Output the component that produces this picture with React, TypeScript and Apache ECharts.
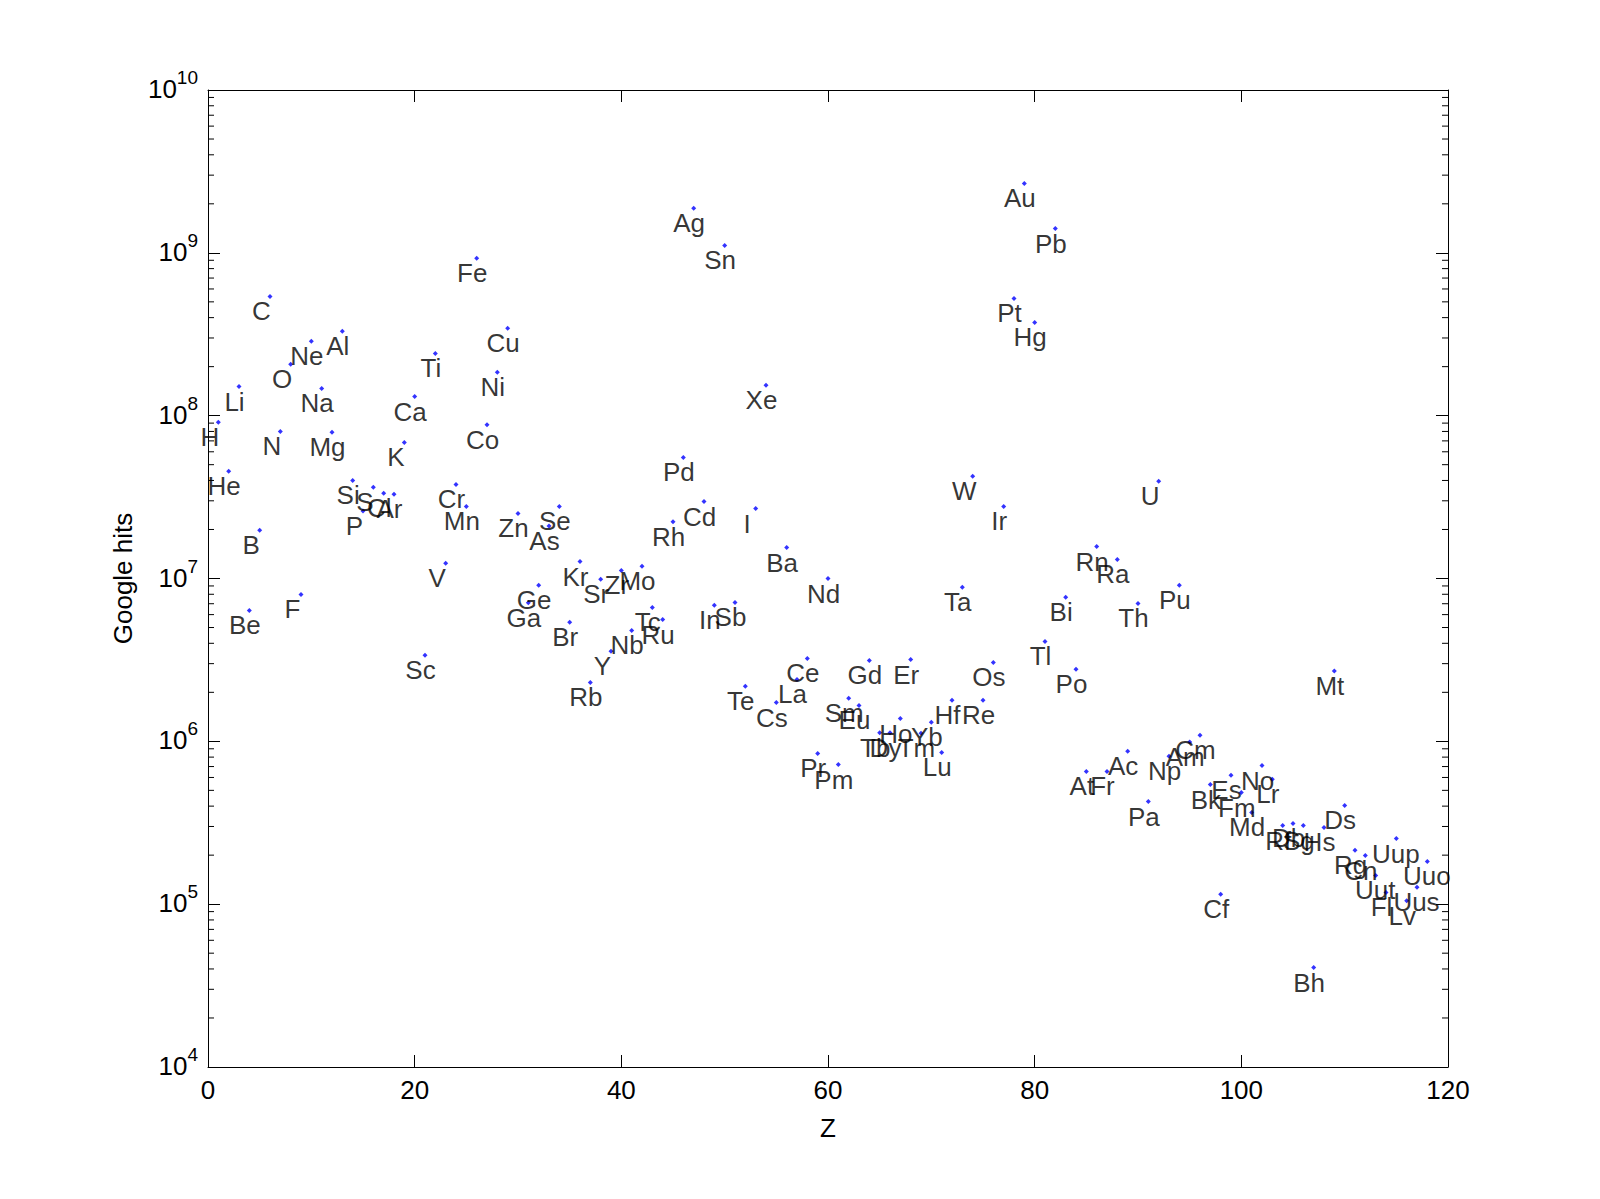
import React, { useEffect, useRef } from "react";
import * as echarts from "echarts";

const FONT = '"Liberation Sans", Arial, Helvetica, sans-serif';

// Element symbols, in order of atomic number Z = 1..118
const symbols = [
  "H", "He", "Li", "Be", "B", "C", "N", "O", "F", "Ne",
  "Na", "Mg", "Al", "Si", "P", "S", "Cl", "Ar", "K", "Ca",
  "Sc", "Ti", "V", "Cr", "Mn", "Fe", "Co", "Ni", "Cu", "Zn",
  "Ga", "Ge", "As", "Se", "Br", "Kr", "Rb", "Sr", "Y", "Zr",
  "Nb", "Mo", "Tc", "Ru", "Rh", "Pd", "Ag", "Cd", "In", "Sn",
  "Sb", "Te", "I", "Xe", "Cs", "Ba", "La", "Ce", "Pr", "Nd",
  "Pm", "Sm", "Eu", "Gd", "Tb", "Dy", "Ho", "Er", "Tm", "Yb",
  "Lu", "Hf", "Ta", "W", "Re", "Os", "Ir", "Pt", "Au", "Hg",
  "Tl", "Pb", "Bi", "Po", "At", "Rn", "Fr", "Ra", "Ac", "Th",
  "Pa", "U", "Np", "Pu", "Am", "Cm", "Bk", "Cf", "Es", "Fm",
  "Md", "No", "Lr", "Rf", "Db", "Sg", "Bh", "Hs", "Mt", "Ds",
  "Rg", "Cn", "Uut", "Fl", "Uup", "Lv", "Uus", "Uuo",
];

// Google hits per element
const hits = [
  9.1e7, 4.55e7, 1.51e8, 6.37e6, 1.98e7, 5.4e8, 8.0e7, 2.07e8, 7.98e6, 2.86e8,
  1.47e8, 7.9e7, 3.3e8, 4.0e7, 2.6e7, 3.63e7, 3.34e7, 3.29e7, 6.85e7, 1.31e8,
  3.38e6, 2.41e8, 1.24e7, 3.78e7, 2.77e7, 9.25e8, 8.8e7, 1.85e8, 3.44e8, 2.51e7,
  7.1e6, 9.08e6, 2.1e7, 2.77e7, 5.38e6, 1.27e7, 2.3e6, 9.9e6, 3.57e6, 1.12e7,
  4.8e6, 1.19e7, 6.64e6, 5.6e6, 2.23e7, 5.54e7, 1.88e9, 2.97e7, 6.84e6, 1.11e9,
  7.13e6, 2.18e6, 2.69e7, 1.54e8, 1.73e6, 1.55e7, 2.4e6, 3.23e6, 8.43e5, 1.0e7,
  7.2e5, 1.84e6, 1.66e6, 3.14e6, 1.13e6, 1.13e6, 1.38e6, 3.18e6, 1.12e6, 1.31e6,
  8.55e5, 1.79e6, 8.83e6, 4.24e7, 1.79e6, 3.05e6, 2.77e7, 5.25e8, 2.67e9, 3.74e8,
  4.11e6, 1.41e9, 7.66e6, 2.77e6, 6.53e5, 1.57e7, 6.53e5, 1.31e7, 8.68e5, 7.03e6,
  4.27e5, 3.95e7, 8.1e5, 9.08e6, 9.9e5, 1.09e6, 5.43e5, 1.15e5, 6.18e5, 4.85e5,
  3.66e5, 7.1e5, 5.84e5, 3.04e5, 3.13e5, 3.04e5, 4.08e4, 2.96e5, 2.7e6, 4.04e5,
  2.14e5, 1.99e5, 1.5e5, 1.18e5, 2.53e5, 1.05e5, 1.27e5, 1.83e5,
];

const xMin = 0;
const xMax = 120;
const xInterval = 20;
const yMin = 1e4;
const yMax = 1e10;

// log-axis minor tick positions (2..9 x 10^n)
const minorTicks: number[] = [];
for (let e = 4; e < 10; e++) {
  for (let k = 2; k <= 9; k++) minorTicks.push(k * Math.pow(10, e));
}

const DOT = 5;

export default function App() {
  const ref = useRef<HTMLDivElement>(null);

  useEffect(() => {
    document.body.style.margin = "0";
    if (!ref.current) return;
    const chart = echarts.init(ref.current, undefined, { renderer: "svg" });

    const scatterData = symbols.map((s, i) => ({
      name: s,
      value: [i + 1, hits[i]],
      label: {
        show: true,
        position: [DOT / 2 - 12.5 + 4 * s.length, DOT / 2 + 15],
        align: "center",
        verticalAlign: "middle",
        formatter: s,
        fontSize: 26,
        color: "#000",
        fontFamily: FONT,
      },
    }));

    const axisLineStyle = { color: "#000", width: 1 };

    const option: any = {
      animation: false,
      backgroundColor: "#fff",
      grid: { left: 208, top: 90, right: 152, bottom: 132, containLabel: false },
      xAxis: [
        {
          type: "value",
          min: xMin,
          max: xMax,
          interval: xInterval,
          position: "bottom",
          name: "Z",
          nameLocation: "middle",
          nameGap: 48,
          nameTextStyle: { fontSize: 26, color: "#000", fontFamily: FONT },
          axisLine: { show: true, onZero: false, lineStyle: axisLineStyle },
          axisTick: { show: true, inside: true, length: 12, lineStyle: { color: "#000" } },
          axisLabel: { fontSize: 26, color: "#000", margin: 10, fontFamily: FONT },
          splitLine: { show: false },
        },
        {
          type: "value",
          min: xMin,
          max: xMax,
          interval: xInterval,
          position: "top",
          axisLine: { show: true, onZero: false, lineStyle: axisLineStyle },
          axisTick: { show: true, inside: true, length: 12, lineStyle: { color: "#000" } },
          axisLabel: { show: false },
          splitLine: { show: false },
        },
      ],
      yAxis: [
        {
          type: "log",
          logBase: 10,
          min: yMin,
          max: yMax,
          position: "left",
          name: "Google hits",
          nameLocation: "middle",
          nameGap: 72,
          nameRotate: 90,
          nameTextStyle: { fontSize: 26, color: "#000", fontFamily: FONT },
          axisLine: { show: true, onZero: false, lineStyle: axisLineStyle },
          axisTick: { show: true, inside: true, length: 12, lineStyle: { color: "#000" } },
          axisLabel: {
            margin: 10,
            color: "#000",
            fontFamily: FONT,
            padding: [20, 0, 0, 0],
            formatter: (v: number) => `{b|10}{s|${Math.round(Math.log10(v))}}`,
            rich: {
              b: { fontSize: 26, lineHeight: 24, fontFamily: FONT, color: "#000", verticalAlign: "bottom", padding: [0, 0, 10, 0] },
              s: { fontSize: 19, lineHeight: 18, fontFamily: FONT, color: "#000", verticalAlign: "bottom", padding: [0, 0, 25, 0] },
            },
          },
          splitLine: { show: false },
        },
        {
          type: "log",
          logBase: 10,
          min: yMin,
          max: yMax,
          position: "right",
          axisLine: { show: true, onZero: false, lineStyle: axisLineStyle },
          axisTick: { show: true, inside: true, length: 12, lineStyle: { color: "#000" } },
          axisLabel: { show: false },
          splitLine: { show: false },
        },
      ],
      series: [
        {
          type: "custom",
          xAxisIndex: 0,
          yAxisIndex: 0,
          silent: true,
          data: minorTicks.map((v) => [xMin, v]),
          renderItem: (params: any, api: any) => {
            const v = api.value(1);
            const l = api.coord([xMin, v]);
            const r = api.coord([xMax, v]);
            return {
              type: "group",
              children: [
                { type: "line", shape: { x1: l[0], y1: l[1], x2: l[0] + 6, y2: l[1] }, style: { stroke: "#000", lineWidth: 1 } },
                { type: "line", shape: { x1: r[0] - 6, y1: r[1], x2: r[0], y2: r[1] }, style: { stroke: "#000", lineWidth: 1 } },
              ],
            };
          },
        },
        {
          type: "scatter",
          xAxisIndex: 0,
          yAxisIndex: 0,
          symbol: "diamond",
          symbolSize: DOT,
          itemStyle: { color: "#0000ff" },
          data: scatterData,
          label: {
            show: true,
            fontSize: 26,
            color: "#000",
            fontFamily: FONT,
          },
          labelLayout: { hideOverlap: false },
        },
      ],
    };

    chart.setOption(option);
    return () => chart.dispose();
  }, []);

  return <div ref={ref} style={{ width: 1600, height: 1199 }} />;
}
